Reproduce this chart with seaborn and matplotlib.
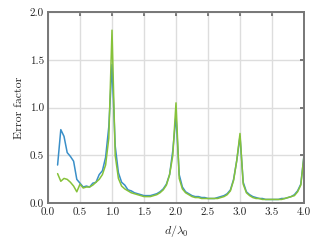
import numpy as np
import pandas as pd
import matplotlib
matplotlib.use('Agg')
import matplotlib.pyplot as plt
import seaborn as sns

# d / lambda_0 sample positions
d_ratio = [0.15, 0.20, 0.25, 0.30, 0.35, 0.40, 0.45, 0.50, 0.55, 0.60,
           0.65, 0.70, 0.75, 0.80, 0.85, 0.90, 0.95, 1.00, 1.05, 1.10,
           1.15, 1.20, 1.25, 1.30, 1.35, 1.40, 1.45, 1.50, 1.55, 1.60,
           1.65, 1.70, 1.75, 1.80, 1.85, 1.90, 1.95, 2.00, 2.05, 2.10,
           2.15, 2.20, 2.25, 2.30, 2.35, 2.40, 2.45, 2.50, 2.55, 2.60,
           2.65, 2.70, 2.75, 2.80, 2.85, 2.90, 2.95, 3.00, 3.05, 3.10,
           3.15, 3.20, 3.25, 3.30, 3.35, 3.40, 3.45, 3.50, 3.55, 3.60,
           3.65, 3.70, 3.75, 3.80, 3.85, 3.90, 3.95, 4.00]

err_blue = [0.40, 0.77, 0.70, 0.53, 0.49, 0.44, 0.25, 0.21, 0.17, 0.18,
            0.17, 0.21, 0.22, 0.30, 0.34, 0.48, 0.80, 1.45, 0.60, 0.32,
            0.22, 0.19, 0.14, 0.13, 0.11, 0.10, 0.09, 0.08, 0.08, 0.08,
            0.09, 0.10, 0.12, 0.15, 0.20, 0.30, 0.55, 0.92, 0.30, 0.17,
            0.12, 0.10, 0.08, 0.07, 0.07, 0.06, 0.06, 0.05, 0.05, 0.05,
            0.06, 0.07, 0.08, 0.10, 0.14, 0.25, 0.45, 0.70, 0.22, 0.12,
            0.09, 0.07, 0.06, 0.05, 0.05, 0.04, 0.04, 0.04, 0.04, 0.04,
            0.05, 0.05, 0.06, 0.07, 0.09, 0.13, 0.20, 0.50]

err_green = [0.31, 0.23, 0.26, 0.25, 0.22, 0.18, 0.12, 0.20, 0.16, 0.17,
             0.17, 0.19, 0.22, 0.25, 0.30, 0.40, 0.68, 1.81, 0.50, 0.26,
             0.18, 0.15, 0.13, 0.11, 0.10, 0.09, 0.08, 0.07, 0.07, 0.07,
             0.08, 0.09, 0.11, 0.14, 0.19, 0.30, 0.50, 1.05, 0.26, 0.15,
             0.11, 0.09, 0.07, 0.06, 0.06, 0.05, 0.05, 0.05, 0.05, 0.05,
             0.05, 0.06, 0.07, 0.09, 0.13, 0.24, 0.45, 0.73, 0.20, 0.11,
             0.08, 0.06, 0.05, 0.05, 0.04, 0.04, 0.04, 0.04, 0.04, 0.04,
             0.04, 0.05, 0.06, 0.07, 0.08, 0.12, 0.19, 0.50]

x_ticks = [0.0, 0.5, 1.0, 1.5, 2.0, 2.5, 3.0, 3.5, 4.0]
y_ticks = [0.0, 0.5, 1.0, 1.5, 2.0]

# long-format table for seaborn
df = pd.DataFrame({
    'd': d_ratio * 2,
    'err': err_blue + err_green,
    'series': ['blue'] * len(d_ratio) + ['green'] * len(d_ratio),
})

sns.set_style('whitegrid')
plt.rcParams['font.family'] = 'serif'
plt.rcParams['font.serif'] = ['cmr10', 'DejaVu Serif']
plt.rcParams['mathtext.fontset'] = 'cm'
plt.rcParams['axes.formatter.use_mathtext'] = True

spine_col = '#777777'

fig = plt.figure(figsize=(3.2, 2.4), dpi=100)
ax = fig.add_axes([0.15, 0.153, 0.80, 0.797])

sns.lineplot(data=df, x='d', y='err', hue='series',
             palette={'blue': '#3a8fc8', 'green': '#86c23a'},
             linewidth=1.1, legend=False, ax=ax)

ax.set_xlim(0, 4)
ax.set_ylim(0, 2)
ax.set_xticks(x_ticks)
ax.set_yticks(y_ticks)
ax.set_xticklabels(['%.1f' % v for v in x_ticks])
ax.set_yticklabels(['%.1f' % v for v in y_ticks])

ax.grid(True, color='#dddddd', linewidth=1.0)
for s in ax.spines.values():
    s.set_color(spine_col)
    s.set_linewidth(1.4)
ax.tick_params(direction='in', length=3, width=1.4, color=spine_col,
               top=True, right=True, labelsize=8, labelcolor='#222222', pad=3)

ax.set_xlabel(r'$d/\lambda_0$', fontsize=8.5)
ax.set_ylabel('Error factor', fontsize=8.5)

plt.savefig('out.png', dpi=100)
plt.close()
